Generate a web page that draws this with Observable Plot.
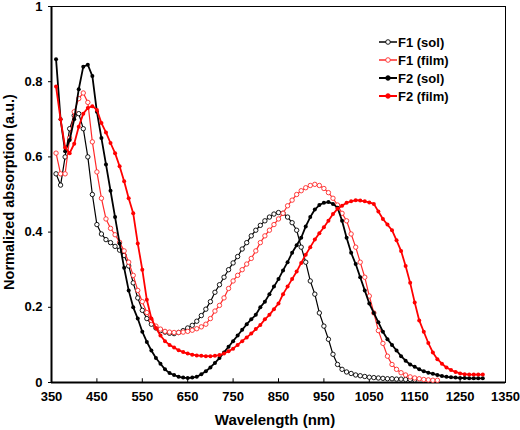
<!DOCTYPE html>
<html>
<head>
<meta charset="utf-8">
<script src="https://cdn.jsdelivr.net/npm/d3@7"></script>
<script src="https://cdn.jsdelivr.net/npm/@observablehq/plot@0.6"></script>
<style>
  html, body { margin: 0; padding: 0; background: white; }
  #wrap { position: relative; width: 520px; height: 430px; font-family: "Liberation Sans", Arial, sans-serif; font-weight: bold; }
  .xlab { position: absolute; left: 0; width: 550px; top: 411px; text-align: center; font-size: 15px; }
  .ylab { position: absolute; left: 9px; top: 192px; transform: translate(-50%, -50%) rotate(-90deg); white-space: nowrap; font-size: 14.5px; }
  .legend { position: absolute; left: 379px; top: 33px; font-size: 13px; }
  .legend div { height: 18px; display: flex; align-items: center; }
</style>
</head>
<body>
<div id="wrap">
  <div id="chart"></div>
  <div class="xlab">Wavelength (nm)</div>
  <div class="ylab">Normalized absorption (a.u.)</div>
  <div class="legend" id="legend"></div>
</div>
<script>
// Wavelength grid (nm)
const wavelengths = [360,370,380,390,400,410,420,430,440,450,460,470,480,490,500,510,520,530,540,550,560,570,580,590,600,610,620,630,640,650,660,670,680,690,700,710,720,730,740,750,760,770,780,790,800,810,820,830,840,850,860,870,880,890,900,910,920,930,940,950,960,970,980,990,1000,1010,1020,1030,1040,1050,1060,1070,1080,1090,1100,1110,1120,1130,1140,1150,1160,1170,1180,1190,1200,1210,1220,1230,1240,1250,1260,1270,1280,1290,1300];

// F1 (sol): 360–1150 nm
const f1Sol = [0.555,0.525,0.60,0.675,0.71,0.715,0.675,0.60,0.50,0.42,0.395,0.38,0.372,0.362,0.352,0.338,0.31,0.265,0.225,0.192,0.17,0.155,0.145,0.138,0.134,0.131,0.13,0.133,0.138,0.145,0.152,0.163,0.178,0.195,0.215,0.24,0.26,0.28,0.30,0.318,0.335,0.355,0.372,0.39,0.405,0.418,0.43,0.44,0.448,0.452,0.45,0.44,0.425,0.405,0.36,0.32,0.27,0.235,0.185,0.15,0.115,0.075,0.048,0.035,0.028,0.024,0.02,0.018,0.016,0.014,0.013,0.012,0.011,0.01,0.01,0.009,0.009,0.008,0.008,0.007];

// F1 (film): 360–1200 nm
const f1Film = [0.61,0.555,0.555,0.65,0.72,0.755,0.77,0.745,0.64,0.56,0.49,0.435,0.41,0.393,0.373,0.35,0.32,0.285,0.245,0.215,0.186,0.165,0.15,0.142,0.136,0.134,0.133,0.133,0.134,0.136,0.139,0.143,0.148,0.155,0.17,0.19,0.205,0.225,0.25,0.27,0.285,0.30,0.315,0.33,0.35,0.372,0.39,0.405,0.42,0.435,0.45,0.47,0.485,0.50,0.51,0.518,0.524,0.527,0.524,0.516,0.505,0.49,0.472,0.45,0.43,0.395,0.36,0.32,0.28,0.23,0.185,0.138,0.104,0.07,0.048,0.035,0.026,0.02,0.015,0.012,0.01,0.008,0.007,0.006,0.006];

// F2 (sol): 360–1300 nm
const f2Sol = [0.86,0.70,0.615,0.645,0.70,0.78,0.84,0.845,0.815,0.72,0.65,0.58,0.51,0.44,0.37,0.305,0.245,0.20,0.17,0.135,0.108,0.085,0.065,0.05,0.035,0.025,0.02,0.015,0.013,0.012,0.013,0.015,0.022,0.03,0.04,0.052,0.065,0.08,0.095,0.11,0.125,0.14,0.155,0.168,0.18,0.20,0.215,0.235,0.255,0.275,0.298,0.32,0.345,0.365,0.385,0.415,0.44,0.46,0.472,0.478,0.48,0.475,0.465,0.43,0.385,0.345,0.315,0.28,0.245,0.21,0.185,0.16,0.135,0.115,0.10,0.085,0.07,0.058,0.048,0.042,0.035,0.03,0.026,0.023,0.02,0.017,0.015,0.014,0.013,0.012,0.012,0.011,0.011,0.011,0.011];

// F2 (film): 360–1300 nm
const f2Film = [0.787,0.70,0.625,0.61,0.635,0.68,0.715,0.73,0.735,0.725,0.69,0.665,0.637,0.61,0.575,0.535,0.49,0.45,0.37,0.30,0.22,0.17,0.145,0.125,0.11,0.10,0.093,0.086,0.081,0.077,0.074,0.072,0.071,0.07,0.07,0.071,0.073,0.077,0.083,0.09,0.10,0.11,0.12,0.13,0.142,0.153,0.168,0.18,0.195,0.21,0.235,0.255,0.275,0.295,0.318,0.34,0.36,0.38,0.397,0.413,0.43,0.448,0.462,0.47,0.478,0.482,0.485,0.484,0.482,0.479,0.475,0.455,0.435,0.42,0.405,0.378,0.35,0.31,0.265,0.213,0.165,0.135,0.105,0.08,0.062,0.05,0.04,0.033,0.028,0.024,0.022,0.021,0.021,0.021,0.021];

const seriesNames = ["F1 (sol)", "F1 (film)", "F2 (sol)", "F2 (film)"];
const seriesValues = [f1Sol, f1Film, f2Sol, f2Film];
const seriesColors = ["#000000", "#ff2a2a", "#000000", "#ff0000"];
const seriesOpen = [true, true, false, false];

const xTicks = [350,450,550,650,750,850,950,1050,1150,1250,1350];
const yTicks = [0,0.2,0.4,0.6,0.8,1];

const rows = [];
seriesValues.forEach((vals, i) => {
  vals.forEach((v, j) => rows.push({series: seriesNames[i], wl: wavelengths[j], a: v}));
});

const marks = [
  Plot.frame({stroke: "black", strokeWidth: 1}),
  Plot.ruleY([0], {stroke: "black", strokeWidth: 2}),
  Plot.ruleX([350], {stroke: "black", strokeWidth: 2}),
  Plot.ruleX(xTicks, {y1: 0, y2: 0.01, stroke: "black", strokeWidth: 1}),
  Plot.axisX({ticks: xTicks, tickSize: 0, tickPadding: 9, label: null, fontSize: 13, fontWeight: "bold", tickFormat: d => String(d)}),
  Plot.axisY({ticks: yTicks, tickSize: 3, tickPadding: 6, label: null, fontSize: 13, fontWeight: "bold", tickFormat: d => String(d)})
];
seriesNames.forEach((name, i) => {
  const data = rows.filter(r => r.series === name);
  marks.push(Plot.line(data, {x: "wl", y: "a", stroke: seriesColors[i], strokeWidth: seriesOpen[i] ? 1.2 : 1.8}));
  marks.push(Plot.dot(data, {x: "wl", y: "a", r: seriesOpen[i] ? 2.2 : 2, stroke: seriesColors[i], strokeWidth: seriesOpen[i] ? 0.9 : 0, fill: seriesOpen[i] ? "white" : seriesColors[i]}));
});

const chart = Plot.plot({
  width: 520,
  height: 430,
  marginLeft: 51,
  marginRight: 15,
  marginTop: 6,
  marginBottom: 48,
  x: {domain: [350, 1350]},
  y: {domain: [0, 1]},
  style: {fontFamily: "'Liberation Sans', Arial, sans-serif", color: "black", background: "white"},
  marks
});
document.getElementById("chart").appendChild(chart);

// Legend
const leg = document.getElementById("legend");
seriesNames.forEach((name, i) => {
  const row = document.createElement("div");
  const fill = seriesOpen[i] ? "white" : seriesColors[i];
  row.innerHTML = `<svg width="18" height="10" style="margin-right:1px"><line x1="0" y1="5" x2="18" y2="5" stroke="${seriesColors[i]}" stroke-width="${seriesOpen[i] ? 1.5 : 2}"/><circle cx="9" cy="5" r="2.3" fill="${fill}" stroke="${seriesColors[i]}" stroke-width="0.9"/></svg><span>${name}</span>`;
  leg.appendChild(row);
});
</script>
</body>
</html>
